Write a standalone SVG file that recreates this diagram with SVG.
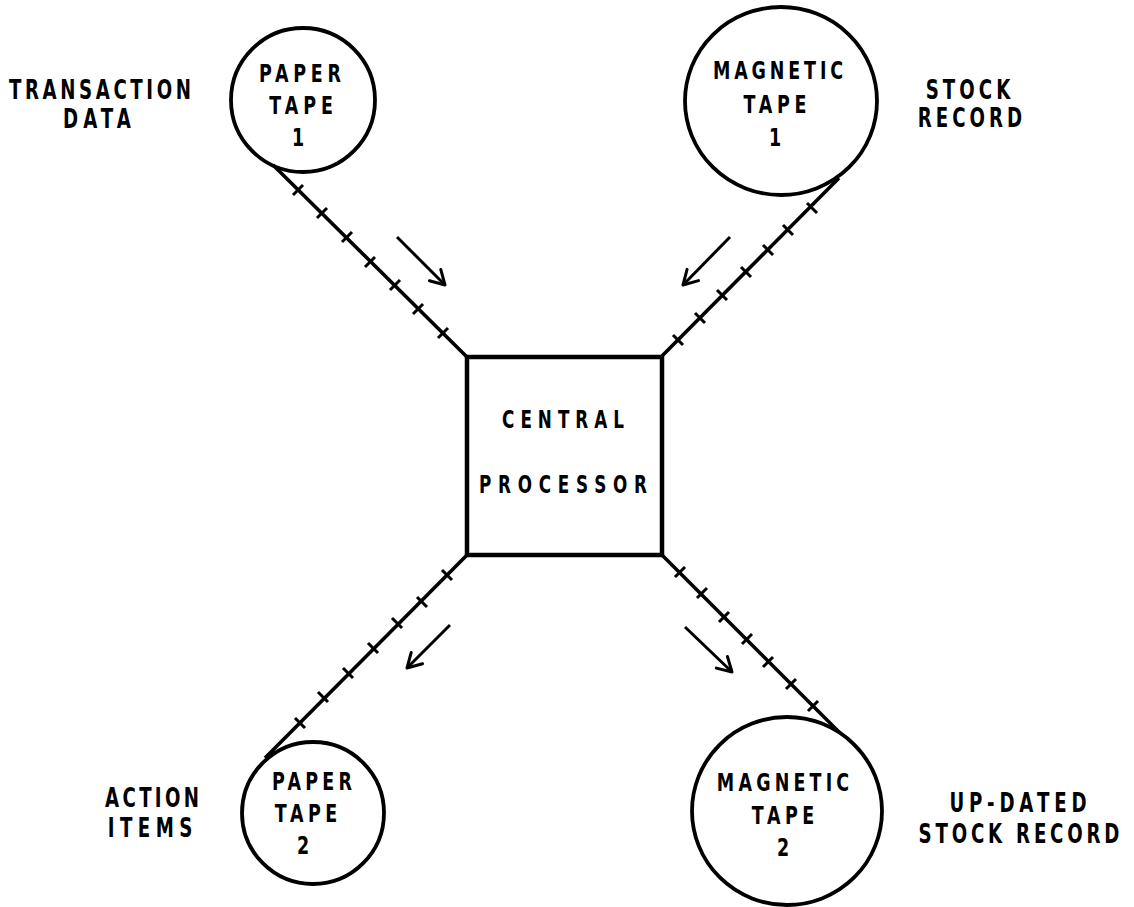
<svg xmlns="http://www.w3.org/2000/svg" width="1134" height="907" viewBox="0 0 1134 907">
<style>
.lbl{font-family:"DejaVu Sans","Liberation Sans",sans-serif;font-weight:bold;font-size:26px;fill:#000;text-anchor:middle}
.cl{font-size:25px}
.sm{font-size:24px}
.shape{fill:none;stroke:#000;stroke-width:3.8}
.box{fill:#fff;stroke:#000;stroke-width:4.5}
.tape{fill:none;stroke:#000;stroke-width:3.6}
.tick{fill:none;stroke:#000;stroke-width:3}
.flow{fill:none;stroke:#000;stroke-width:3;marker-end:url(#vh)}
</style>
<defs>
<marker id="vh" viewBox="0 0 20 20" refX="17" refY="10" markerWidth="20" markerHeight="20" markerUnits="userSpaceOnUse" orient="auto">
<path d="M3,2 L17,10 L3,18" fill="none" stroke="#000" stroke-width="3" stroke-linecap="round" stroke-linejoin="round"/>
</marker>
</defs>
<rect width="1134" height="907" fill="#fff"/>

<g id="connectors">
<path class="tape" d="M273,165 L467,357"/>
<path class="tick" d="M293,195 L303,185 M317,218 L327,208 M342,242 L352,232 M365,267 L375,257 M390,290 L400,280 M413,314 L423,304 M438,338 L448,328"/>
<path class="tape" d="M661,357 L839,178"/>
<path class="tick" d="M673,335 L683,345 M695,313 L705,323 M717,290 L727,300 M741,267 L751,277 M763,245 L773,255 M783,225 L793,235 M807,203 L817,213"/>
<path class="tape" d="M467,555 L265,758"/>
<path class="tick" d="M442,570 L452,580 M417,597 L427,607 M392,618 L402,628 M368,643 L378,653 M343,668 L353,678 M318,692 L328,702 M295,718 L305,728"/>
<path class="tape" d="M662,555 L840,733"/>
<path class="tick" d="M675,577 L685,567 M697,598 L707,588 M719,622 L729,612 M742,644 L752,634 M763,667 L773,657 M786,689 L796,679 M808,711 L818,701"/>
<path class="flow" d="M397,237 L445,285"/>
<path class="flow" d="M730,237 L683,285"/>
<path class="flow" d="M450,625 L407,668"/>
<path class="flow" d="M685,627 L732,672"/>
</g>

<g id="paper-tape-1">
<circle class="shape" cx="303" cy="100" r="72"/>
<text class="lbl cl" transform="translate(300,82) scale(0.7,1)" textLength="117" lengthAdjust="spacing">PAPER</text>
<text class="lbl cl" transform="translate(301,114) scale(0.7,1)" textLength="91" lengthAdjust="spacing">TAPE</text>
<text class="lbl cl" transform="translate(298,146) scale(0.7,1)">1</text>
</g>
<g id="transaction-data">
<text class="lbl" transform="translate(100,99) scale(0.7,1)" textLength="260" lengthAdjust="spacing">TRANSACTION</text>
<text class="lbl" transform="translate(97,128) scale(0.7,1)" textLength="97" lengthAdjust="spacing">DATA</text>
</g>

<g id="magnetic-tape-1">
<ellipse class="shape" cx="781" cy="101" rx="96" ry="94"/>
<text class="lbl cl" transform="translate(778,79) scale(0.7,1)" textLength="186" lengthAdjust="spacing">MAGNETIC</text>
<text class="lbl cl" transform="translate(775,113) scale(0.7,1)" textLength="90" lengthAdjust="spacing">TAPE</text>
<text class="lbl cl" transform="translate(775,146) scale(0.7,1)">1</text>
</g>
<g id="stock-record">
<text class="lbl" transform="translate(968,99) scale(0.7,1)" textLength="121" lengthAdjust="spacing">STOCK</text>
<text class="lbl" transform="translate(970,127) scale(0.7,1)" textLength="149" lengthAdjust="spacing">RECORD</text>
</g>

<g id="central-processor">
<rect class="box" x="467" y="357" width="195" height="198"/>
<text class="lbl sm" transform="translate(563,428) scale(0.7,1)" textLength="174" lengthAdjust="spacing">CENTRAL</text>
<text class="lbl sm" transform="translate(563,493) scale(0.7,1)" textLength="240" lengthAdjust="spacing">PROCESSOR</text>
</g>

<g id="paper-tape-2">
<circle class="shape" cx="313" cy="813" r="71"/>
<text class="lbl cl" transform="translate(312,790) scale(0.7,1)" textLength="114" lengthAdjust="spacing">PAPER</text>
<text class="lbl cl" transform="translate(306,822) scale(0.7,1)" textLength="89" lengthAdjust="spacing">TAPE</text>
<text class="lbl cl" transform="translate(303,854) scale(0.7,1)">2</text>
</g>
<g id="action-items">
<text class="lbl" transform="translate(152,807) scale(0.7,1)" textLength="134" lengthAdjust="spacing">ACTION</text>
<text class="lbl" transform="translate(150,837) scale(0.7,1)" textLength="121" lengthAdjust="spacing">ITEMS</text>
</g>

<g id="magnetic-tape-2">
<ellipse class="shape" cx="787" cy="811" rx="95" ry="94"/>
<text class="lbl cl" transform="translate(783,791) scale(0.7,1)" textLength="189" lengthAdjust="spacing">MAGNETIC</text>
<text class="lbl cl" transform="translate(783,824) scale(0.7,1)" textLength="89" lengthAdjust="spacing">TAPE</text>
<text class="lbl cl" transform="translate(783,856) scale(0.7,1)">2</text>
</g>
<g id="updated-stock-record">
<text class="lbl" transform="translate(1018,812) scale(0.7,1)" textLength="196" lengthAdjust="spacing">UP-DATED</text>
<text class="lbl" transform="translate(1019,843) scale(0.7,1)" textLength="287" lengthAdjust="spacing">STOCK RECORD</text>
</g>
</svg>
